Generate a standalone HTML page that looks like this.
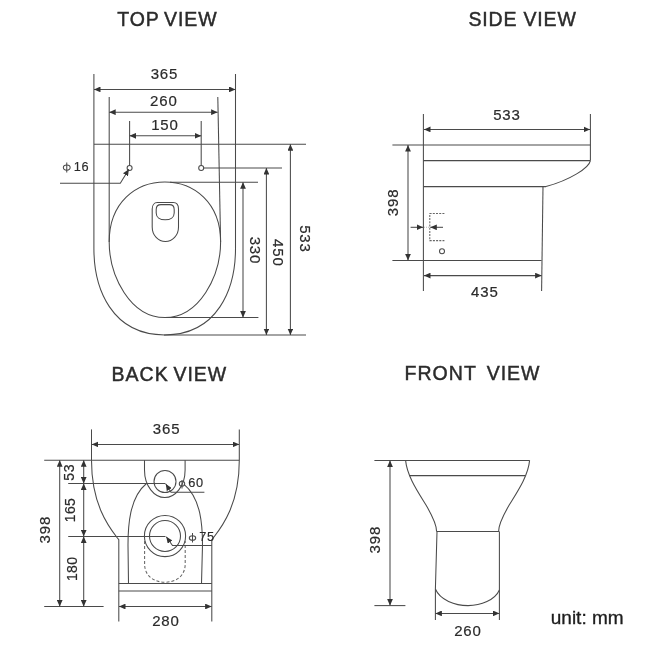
<!DOCTYPE html>
<html><head><meta charset="utf-8">
<style>
html,body{margin:0;padding:0;background:#fff;width:650px;height:650px;overflow:hidden}
svg{display:block;filter:grayscale(1)}
text{font-family:"Liberation Sans",sans-serif;fill:#2b2b2b}
.t{font-size:19.5px;letter-spacing:0.9px;stroke:#2b2b2b;stroke-width:0.45px}
.d{font-size:15px;letter-spacing:0.9px;stroke:#2b2b2b;stroke-width:0.2px}
.s{font-size:12.8px;letter-spacing:0.6px;stroke:#2b2b2b;stroke-width:0.15px}
</style></head><body>
<svg width="650" height="650" viewBox="0 0 650 650">
<defs>
<marker id="a" viewBox="0 0 6.5 5.8" refX="6.5" refY="2.9" markerWidth="6.5" markerHeight="5.8" markerUnits="userSpaceOnUse" orient="auto-start-reverse">
<path d="M0,0 L6.5,2.9 L0,5.8 Z" fill="#333"/>
</marker>
</defs>
<!-- titles -->
<text class="t" x="117.2" y="26">TOP</text>
<text class="t" x="164" y="26">VIEW</text>
<text class="t" x="468.4" y="26">SIDE</text>
<text class="t" x="523.4" y="26">VIEW</text>
<text class="t" x="111.4" y="381.4" style="letter-spacing:1.1px">BACK</text>
<text class="t" x="173.5" y="381.4">VIEW</text>
<text class="t" x="404.5" y="380" style="letter-spacing:1.05px">FRONT</text>
<text class="t" x="486.8" y="380">VIEW</text>

<g fill="none" stroke="#4a4a4a" stroke-width="1.05">
<!-- ============ TOP VIEW ============ -->
<path d="M93.9,74 L93.9,248.5 C93.9,289 111.9,334.9 164.7,334.9 C217.5,334.9 235.5,289 235.5,248.5 L235.5,74"/>
<line x1="94" y1="89.4" x2="235.5" y2="89.4" marker-start="url(#a)" marker-end="url(#a)"/>
<line x1="109.2" y1="97" x2="109.2" y2="242"/>
<line x1="217.8" y1="97" x2="220.6" y2="242"/>
<line x1="109.2" y1="112.2" x2="217.6" y2="112.2" marker-start="url(#a)" marker-end="url(#a)"/>
<line x1="129.6" y1="121" x2="129.6" y2="165.5"/>
<line x1="201.2" y1="121" x2="201.2" y2="165.5"/>
<line x1="129.6" y1="135.8" x2="201.2" y2="135.8" marker-start="url(#a)" marker-end="url(#a)"/>
<line x1="94" y1="144.2" x2="306" y2="144.2"/>
<circle cx="129.6" cy="168" r="2.5"/>
<circle cx="201.2" cy="168" r="2.5"/>
<line x1="203.7" y1="168" x2="282" y2="168"/>
<line x1="170" y1="182.2" x2="258" y2="182.2"/>
<line x1="166" y1="317.5" x2="258.4" y2="317.5"/>
<line x1="164" y1="334.9" x2="306" y2="334.9"/>
<line x1="243" y1="182.2" x2="243" y2="317.5" marker-start="url(#a)" marker-end="url(#a)"/>
<line x1="266.4" y1="168" x2="266.4" y2="335" marker-start="url(#a)" marker-end="url(#a)"/>
<line x1="290.4" y1="144.2" x2="290.4" y2="335" marker-start="url(#a)" marker-end="url(#a)"/>
<path d="M60,183.2 L120.3,183.2 L128.9,169.3" marker-end="url(#a)"/>
<path d="M164.88,182 C193.8,182 220.6,202.4 220.6,241.9 C220.6,275.8 199.6,317.5 164.88,317.5 C130.2,317.5 109.2,275.8 109.2,241.9 C109.2,202.4 135.98,182 164.88,182 Z"/>
<path d="M157.4,202.5 L173.2,202.5 C176.8,202.5 178.5,205.5 178.5,209 L178.5,227 C178.5,235.5 172.5,241.5 165.4,241.5 C158.3,241.5 152.2,235.5 152.2,227 L152.2,209 C152.2,205.5 154,202.5 157.4,202.5 Z"/>
<path d="M161,204.6 L169.4,204.6 C172.6,204.6 174.2,206.5 174.2,209.5 L174.2,213 C174.2,217.2 170.5,219.8 165.2,219.8 C159.9,219.8 156.2,217.2 156.2,213 L156.2,209.5 C156.2,206.5 157.8,204.6 161,204.6 Z"/>
<ellipse cx="66.75" cy="167.6" rx="3.4" ry="2.6"/>
<line x1="66.75" y1="162.5" x2="66.75" y2="172.5"/>

<!-- ============ SIDE VIEW ============ -->
<line x1="423.4" y1="114" x2="423.4" y2="291"/>
<line x1="590.4" y1="114" x2="590.4" y2="160.6"/>
<line x1="424" y1="129.4" x2="590" y2="129.4" marker-start="url(#a)" marker-end="url(#a)"/>
<line x1="392.4" y1="145" x2="590.4" y2="145"/>
<line x1="423.4" y1="160.6" x2="590.4" y2="160.6"/>
<line x1="423.4" y1="186.6" x2="546" y2="186.6"/>
<path d="M590.4,160.6 C589,168 570,180 546,186.6"/>
<line x1="543" y1="186.6" x2="541.6" y2="291"/>
<line x1="392.4" y1="260.4" x2="541.6" y2="260.4"/>
<line x1="424" y1="275.6" x2="541.6" y2="275.6" marker-start="url(#a)" marker-end="url(#a)"/>
<line x1="408" y1="145" x2="408" y2="260.4" marker-start="url(#a)" marker-end="url(#a)"/>
<path d="M444.4,213.5 L429.8,213.5 L429.8,240.6 L444.4,240.6" stroke="#666" stroke-dasharray="2,1.2"/>
<line x1="424" y1="227.3" x2="429.5" y2="227.3" stroke="#bbb" stroke-dasharray="1,1"/>
<line x1="410.6" y1="227.3" x2="423" y2="227.3" marker-end="url(#a)"/>
<line x1="443" y1="227.3" x2="430.3" y2="227.3" marker-end="url(#a)"/>
<circle cx="442" cy="251.2" r="2.5"/>

<!-- ============ BACK VIEW ============ -->
<line x1="91.5" y1="429.4" x2="91.5" y2="460.4"/>
<line x1="239.3" y1="429.4" x2="239.3" y2="460.4"/>
<line x1="91.8" y1="444.4" x2="239.1" y2="444.4" marker-start="url(#a)" marker-end="url(#a)"/>
<line x1="44.2" y1="460.2" x2="239.3" y2="460.2"/>
<line x1="68.2" y1="483.5" x2="165.5" y2="483.5"/>
<line x1="68.2" y1="536.4" x2="165.5" y2="536.4"/>
<line x1="44.2" y1="606.5" x2="103.6" y2="606.5"/>
<line x1="59.7" y1="460.2" x2="59.7" y2="606.5" marker-start="url(#a)" marker-end="url(#a)"/>
<line x1="83.7" y1="460.2" x2="83.7" y2="483.5" marker-start="url(#a)" marker-end="url(#a)"/>
<line x1="83.7" y1="483.5" x2="83.7" y2="536.4" marker-start="url(#a)" marker-end="url(#a)"/>
<line x1="83.7" y1="536.4" x2="83.7" y2="606.5" marker-start="url(#a)" marker-end="url(#a)"/>
<path d="M91.5,460.2 C91.5,504.1 108.65,526.8 117,537.5 L118.8,539.8 L118.8,621.6"/>
<path d="M239.3,460.2 C239.3,504.1 222,526.8 213.6,537.5 L211.8,539.8 L211.8,621.6"/>
<line x1="118.8" y1="583.5" x2="211.8" y2="583.5"/>
<line x1="118.8" y1="591" x2="211.8" y2="591"/>
<line x1="119" y1="606.5" x2="211.6" y2="606.5" marker-start="url(#a)" marker-end="url(#a)"/>
<path d="M144.5,460.2 L144.5,469.9 C144.5,486.2 154.4,497.5 164.8,497.5 C175.2,497.5 185.1,486.2 185.1,469.9 L185.1,460.2"/>
<circle cx="165" cy="481.5" r="11"/>
<path d="M204.4,492.3 L171,492.3 L165.8,484" marker-end="url(#a)"/>
<path d="M146.5,483.5 C129.3,497.5 128,526.5 128,545 L128.5,583.5"/>
<path d="M184,484.3 C201.2,498.3 202.5,526.5 202.5,545 L201.5,583.5"/>
<circle cx="165" cy="536" r="20.6"/>
<circle cx="165" cy="536" r="15.5"/>
<path d="M144.6,541 L144.6,564 C144.6,576 154,582.2 165,582.2 C176,582.2 185.2,576 185.2,564 L185.2,541" stroke="#666" stroke-dasharray="3,2"/>
<path d="M211.8,545.5 L172.5,545.5 L166.3,536.8" marker-end="url(#a)"/>
<ellipse cx="182" cy="483.7" rx="2.7" ry="2.4"/>
<line x1="182" y1="480" x2="182" y2="488.5"/>
<ellipse cx="192.5" cy="538" rx="3.2" ry="2.3"/>
<line x1="192.5" y1="533" x2="192.5" y2="542.5"/>

<!-- ============ FRONT VIEW ============ -->
<line x1="374.4" y1="460.4" x2="529.6" y2="460.4"/>
<line x1="390" y1="460.4" x2="390" y2="605.6" marker-start="url(#a)" marker-end="url(#a)"/>
<line x1="374.4" y1="605.6" x2="405.4" y2="605.6"/>
<path d="M405.6,460.4 C407,476 418,492 426,505 C433,517 436.6,525 436.6,531.4"/>
<path d="M529.6,460.4 C528.2,476 517.2,492 509.2,505 C502.2,517 498.6,525 498.6,531.4"/>
<line x1="409.4" y1="475.6" x2="525" y2="475.6"/>
<line x1="436.6" y1="531.4" x2="499.2" y2="531.4"/>
<path d="M437,531.4 L435.4,589 L435.4,620"/>
<line x1="499.4" y1="531.4" x2="499.4" y2="620"/>
<path d="M435.4,589 C440,600 455,605.6 468,605.6 C481,605.6 495,600 499.4,590"/>
<line x1="435.4" y1="613.4" x2="499.4" y2="613.4" marker-start="url(#a)" marker-end="url(#a)"/>
</g>

<!-- dimension texts -->
<text class="d" x="164.5" y="79" text-anchor="middle">365</text>
<text class="d" x="163.8" y="105.5" text-anchor="middle">260</text>
<text class="d" x="165" y="130" text-anchor="middle">150</text>
<text class="s" x="73.7" y="171">16</text>
<text class="d" x="249.5" y="250.5" transform="rotate(90 249.5 250.5)" text-anchor="middle">330</text>
<text class="d" x="272.8" y="253" transform="rotate(90 272.8 253)" text-anchor="middle">450</text>
<text class="d" x="299.5" y="239" transform="rotate(90 299.5 239)" text-anchor="middle">533</text>

<text class="d" x="507" y="120" text-anchor="middle">533</text>
<text class="d" x="484.8" y="297" text-anchor="middle">435</text>
<text class="d" x="398.2" y="202.4" transform="rotate(-90 398.2 202.4)" text-anchor="middle">398</text>

<text class="d" x="166.6" y="434" text-anchor="middle">365</text>
<text class="d" x="49.5" y="529.5" transform="rotate(-90 49.5 529.5)" text-anchor="middle">398</text>
<text class="d" x="74.5" y="472.2" transform="rotate(-90 74.5 472.2)" text-anchor="middle" style="font-size:14px;letter-spacing:0.8px">53</text>
<text class="d" x="75.3" y="510" transform="rotate(-90 75.3 510)" text-anchor="middle" style="font-size:14px;letter-spacing:0.4px">165</text>
<text class="d" x="77" y="568.8" transform="rotate(-90 77 568.8)" text-anchor="middle" style="font-size:14px;letter-spacing:0.4px">180</text>
<text class="s" x="195.9" y="487" text-anchor="middle">60</text>
<text class="s" x="207" y="541" text-anchor="middle">75</text>
<text class="d" x="166" y="626.4" text-anchor="middle">280</text>

<text class="d" x="379.5" y="539.5" transform="rotate(-90 379.5 539.5)" text-anchor="middle">398</text>
<text class="d" x="468" y="636" text-anchor="middle">260</text>
<text x="587.2" y="624.2" text-anchor="middle" style="font-size:19px;fill:#1e1e1e;stroke:#1e1e1e;stroke-width:0.35px">unit: mm</text>
</svg>
</body></html>
